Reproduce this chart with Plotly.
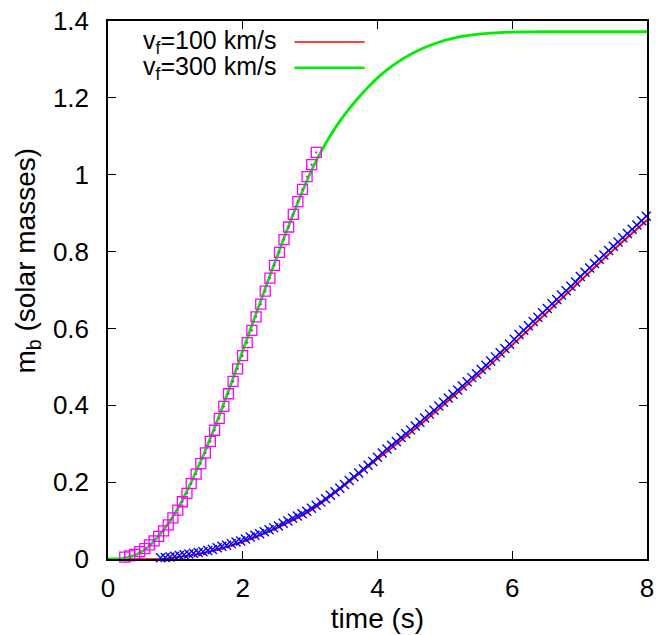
import plotly.graph_objects as go

# ---- data ----
green_t = [0, 0.2, 0.3, 0.4, 0.5, 0.6, 0.7, 0.8, 0.9, 1.0, 1.1, 1.2, 1.3, 1.4, 1.5, 1.6, 1.7, 1.8,
           1.9, 2.0, 2.18, 2.39, 2.6, 2.8, 2.95, 3.1, 3.25, 3.4, 3.55, 3.7, 3.85, 4.0, 4.15, 4.3,
           4.5, 4.7, 4.9, 5.1, 5.3, 5.5, 5.75, 6.0, 6.5, 7.0, 8.0]
green_m = [0, 0.001, 0.004, 0.010, 0.019, 0.032, 0.050, 0.070, 0.094, 0.121, 0.152, 0.187, 0.225,
           0.264, 0.306, 0.350, 0.396, 0.443, 0.492, 0.542, 0.630, 0.731, 0.830, 0.920, 0.983,
           1.039, 1.087, 1.129, 1.165, 1.197, 1.226, 1.252, 1.274, 1.293, 1.314, 1.331, 1.344,
           1.354, 1.361, 1.366, 1.369, 1.371, 1.372, 1.372, 1.372]

red_t = [0, 0.8, 1.0, 1.5, 2.0, 2.5, 3.0, 3.5, 4.0, 4.5, 5.0, 5.5, 6.0, 6.5, 7.0, 7.5, 8.0]
red_m = [0, 0, 0.004, 0.019, 0.045, 0.080, 0.125, 0.190, 0.260, 0.330, 0.404, 0.479, 0.557,
         0.639, 0.722, 0.804, 0.882]

sq_t = [0.249, 0.322, 0.396, 0.469, 0.547, 0.615, 0.684, 0.752, 0.825, 0.894, 0.963, 1.036,
        1.103, 1.172, 1.235, 1.308, 1.377, 1.446, 1.519, 1.582, 1.651, 1.719, 1.788, 1.856,
        1.924, 1.997, 2.066, 2.135, 2.198, 2.267, 2.334, 2.403, 2.471, 2.545, 2.612, 2.681,
        2.750, 2.818, 2.886, 2.955, 3.023, 3.092]
sq_m = [0.005, 0.008, 0.012, 0.019, 0.027, 0.037, 0.047, 0.059, 0.073, 0.089, 0.107, 0.127,
        0.149, 0.171, 0.196, 0.221, 0.248, 0.276, 0.306, 0.335, 0.366, 0.397, 0.430, 0.462,
        0.495, 0.529, 0.563, 0.595, 0.630, 0.663, 0.697, 0.731, 0.764, 0.798, 0.831, 0.864,
        0.897, 0.930, 0.962, 0.995, 1.026, 1.058]

x_t = [0.78, 0.85, 0.92, 0.99, 1.06, 1.13, 1.20, 1.27, 1.34, 1.41, 1.48, 1.55, 1.62, 1.69, 1.76,
       1.83, 1.90, 1.97, 2.04, 2.11, 2.18, 2.25, 2.32, 2.39, 2.46, 2.53, 2.60, 2.67, 2.74, 2.81,
       2.88, 2.95, 3.02, 3.09, 3.16, 3.23, 3.30, 3.37, 3.44, 3.51, 3.58, 3.65, 3.72, 3.79, 3.86,
       3.93, 4.00, 4.07, 4.14, 4.21, 4.28, 4.35, 4.42, 4.49, 4.56, 4.63, 4.70, 4.77, 4.84, 4.91,
       4.98, 5.05, 5.12, 5.19, 5.26, 5.33, 5.40, 5.47, 5.54, 5.61, 5.68, 5.75, 5.82, 5.89, 5.96,
       6.03, 6.10, 6.17, 6.24, 6.31, 6.38, 6.45, 6.52, 6.59, 6.66, 6.73, 6.80, 6.87, 6.94, 7.01,
       7.08, 7.15, 7.22, 7.29, 7.36, 7.43, 7.50, 7.57, 7.64, 7.71, 7.78, 7.85, 7.92, 7.99]
x_m = [0.003, 0.004, 0.005, 0.007, 0.009, 0.011, 0.013, 0.015, 0.017, 0.019, 0.022, 0.025, 0.029,
       0.033, 0.036, 0.040, 0.044, 0.047, 0.052, 0.057, 0.062, 0.066, 0.071, 0.076, 0.081, 0.086,
       0.093, 0.099, 0.106, 0.112, 0.118, 0.124, 0.132, 0.140, 0.148, 0.157, 0.166, 0.175, 0.184,
       0.194, 0.204, 0.214, 0.224, 0.234, 0.244, 0.254, 0.265, 0.276, 0.286, 0.296, 0.306, 0.316,
       0.326, 0.336, 0.346, 0.356, 0.367, 0.377, 0.387, 0.398, 0.408, 0.419, 0.429, 0.440, 0.450,
       0.461, 0.472, 0.482, 0.493, 0.504, 0.515, 0.526, 0.537, 0.548, 0.559, 0.572, 0.584, 0.595,
       0.607, 0.618, 0.629, 0.641, 0.652, 0.664, 0.675, 0.687, 0.698, 0.710, 0.721, 0.735, 0.746,
       0.757, 0.769, 0.780, 0.791, 0.803, 0.814, 0.825, 0.836, 0.847, 0.858, 0.869, 0.880, 0.892]

x_ticks = [0, 2, 4, 6, 8]
y_ticks = [0, 0.2, 0.4, 0.6, 0.8, 1.0, 1.2, 1.4]
legend_labels = ["v<sub>f</sub>=100 km/s", "v<sub>f</sub>=300 km/s"]
x_title = "time (s)"
y_title = "m<sub>b</sub> (solar masses)"

RED = "#ff0000"
GREEN = "#00ee00"
FONT = "Liberation Sans, Arial, sans-serif"
TICK_SIZE = 26
TITLE_SIZE = 28

fig = go.Figure()
fig.add_trace(go.Scatter(x=red_t, y=red_m, mode="lines",
                         line=dict(color=RED, width=2, shape="spline", smoothing=0.6),
                         showlegend=False, cliponaxis=False))
fig.add_trace(go.Scatter(x=green_t, y=green_m, mode="lines",
                         line=dict(color=GREEN, width=2.8, shape="spline", smoothing=0.6),
                         showlegend=False, cliponaxis=False))
fig.add_trace(go.Scatter(x=sq_t, y=sq_m, mode="markers",
                         marker=dict(symbol="square-open-dot", size=10, color="#ff00ff",
                                     line=dict(width=1.3, color="#ff00ff")),
                         showlegend=False, cliponaxis=False))
fig.add_trace(go.Scatter(x=x_t, y=x_m, mode="markers",
                         marker=dict(symbol="x-thin-open", size=9, color="#0000ff",
                                     line=dict(width=1.4, color="#0000ff")),
                         showlegend=False, cliponaxis=False))

# gnuplot-style key: text right-aligned, sample line to the right
key_rows = [(0.961, RED, 1.6), (0.913, GREEN, 2.6)]
for (yy, col, w), lab in zip(key_rows, legend_labels):
    fig.add_annotation(x=0.316, y=yy, xref="paper", yref="paper", text=lab, showarrow=False,
                       xanchor="right", yanchor="middle", font=dict(size=25, color="black", family=FONT))
    fig.add_shape(type="line", xref="paper", yref="paper", x0=0.346, x1=0.476, y0=yy, y1=yy,
                  line=dict(color=col, width=w))

fig.add_annotation(x=-0.150, y=0.555, xref="paper", yref="paper", text=y_title, showarrow=False,
                   textangle=-90, xanchor="center", yanchor="middle",
                   font=dict(size=TITLE_SIZE, color="black", family=FONT))

axis_common = dict(showgrid=False, zeroline=False, showline=True, linecolor="black", linewidth=1.5,
                   mirror="ticks", ticks="inside", ticklen=8, tickwidth=1.2, tickcolor="black",
                   tickfont=dict(size=TICK_SIZE, color="black", family=FONT))
fig.update_xaxes(range=[0, 8], tickvals=x_ticks,
                 title=dict(text=x_title, font=dict(size=TITLE_SIZE, family=FONT, color="black"), standoff=0),
                 ticklabelstandoff=5, **axis_common)
fig.update_yaxes(range=[0, 1.4], tickvals=y_ticks, ticklabelstandoff=12, **axis_common)

fig.update_layout(width=660, height=635, margin=dict(l=108, r=6, t=17, b=76),
                  plot_bgcolor="white", paper_bgcolor="white", showlegend=False,
                  font=dict(family=FONT, color="black"))
fig.write_html("out.html")
